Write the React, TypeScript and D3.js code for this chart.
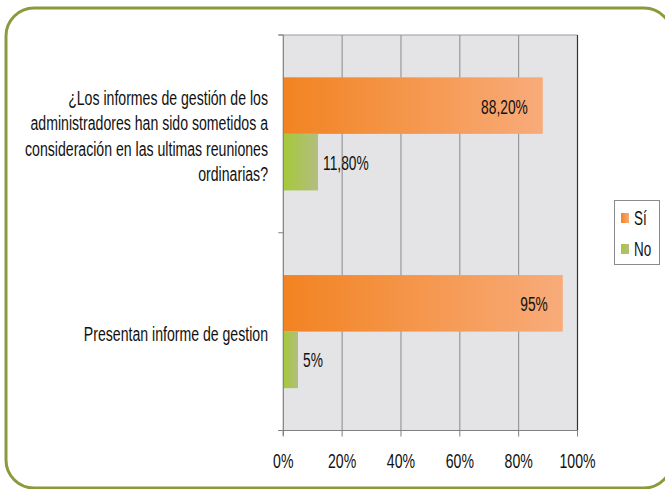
import React from "react";
import * as d3 from "d3";

const categories = [
  "¿Los informes de gestión de los administradores han sido sometidos a consideración en las ultimas reuniones ordinarias?",
  "Presentan informe de gestion",
];
const categoryLines = [
  ["¿Los informes de gestión de los", "administradores han sido sometidos a", "consideración en las ultimas reuniones", "ordinarias?"],
  ["Presentan informe de gestion"],
];
const seriesNames = ["Sí", "No"];
const siValues = [88.2, 95];
const noValues = [11.8, 5];
const siLabels = ["88,20%", "95%"];
const noLabels = ["11,80%", "5%"];
const xTicks = [0, 20, 40, 60, 80, 100];
const xTickLabels = ["0%", "20%", "40%", "60%", "80%", "100%"];

const W = 665;
const H = 489;
const FONT = "'Liberation Sans', Arial, sans-serif";
const SX = 0.672;

function CText({ x, y, anchor, size, children }: any) {
  return (
    <g transform={`translate(${x},${y}) scale(${SX},1)`}>
      <text x={0} y={0} textAnchor={anchor} fontFamily={FONT} fontSize={size} fill="#111">
        {children}
      </text>
    </g>
  );
}

export default function App() {
  const left = 283.3;
  const right = 577.5;
  const top = 35;
  const bottom = 430.5;

  const x = d3.scaleLinear().domain([0, 100]).range([left, right]);
  const y = d3
    .scaleBand<string>()
    .domain(categories)
    .range([top, bottom])
    .paddingInner(0.428)
    .paddingOuter(0.214);
  const inner = d3.scaleBand<string>().domain(seriesNames).range([0, y.bandwidth()]).padding(0);

  const series = [
    { name: "Sí", values: siValues, labels: siLabels, grad: "url(#gOrange)" },
    { name: "No", values: noValues, labels: noLabels, grad: "url(#gGreen)" },
  ];

  const catCenters = categories.map((c) => (y(c) as number) + y.bandwidth() / 2);

  return (
    <svg
      width={W}
      height={H}
      style={{ position: "absolute", left: 0, top: 0, background: "#fff" }}
    >
      <defs>
        <linearGradient id="gOrange" x1="0" y1="0" x2="1" y2="0">
          <stop offset="0" stopColor="#f28321" />
          <stop offset="1" stopColor="#f8ab7a" />
        </linearGradient>
        <linearGradient id="gGreen" x1="0" y1="0" x2="1" y2="0">
          <stop offset="0" stopColor="#a5c93a" />
          <stop offset="1" stopColor="#b3bd80" />
        </linearGradient>
      </defs>

      <rect x={6} y={8} width={666} height={480} rx={28} ry={28} fill="none" stroke="#8b9a3c" strokeWidth={3} />

      {/* plot area */}
      <rect x={left} y={top} width={right - left} height={bottom - top} fill="#e4e4e6" />
      {xTicks.slice(1, -1).map((t) => (
        <line key={t} x1={x(t)} x2={x(t)} y1={top} y2={bottom} stroke="#8a8a8c" strokeWidth={1} />
      ))}
      <line x1={left - 5} x2={right} y1={top} y2={top} stroke="#9a9a9c" strokeWidth={1} />
      <line x1={right} x2={right} y1={top} y2={bottom} stroke="#333" strokeWidth={1.2} />

      {/* bars */}
      {series.map((s) =>
        categories.map((c, i) => {
          const by = (y(c) as number) + (inner(s.name) as number);
          return (
            <rect
              key={s.name + i}
              x={x(0)}
              y={by}
              width={x(s.values[i]) - x(0)}
              height={inner.bandwidth()}
              fill={s.grad}
            />
          );
        })
      )}

      {/* axes */}
      <line x1={left} x2={left} y1={top} y2={bottom + 5} stroke="#7f7f82" strokeWidth={1.2} />
      <line x1={left - 5} x2={right} y1={bottom} y2={bottom} stroke="#7f7f82" strokeWidth={1.2} />
      {xTicks.map((t) => (
        <line key={"t" + t} x1={x(t)} x2={x(t)} y1={bottom} y2={bottom + 6} stroke="#7f7f82" strokeWidth={1} />
      ))}
      {[top, (top + bottom) / 2, bottom].map((yy, i) => (
        <line key={"yt" + i} x1={left - 5} x2={left} y1={yy} y2={yy} stroke="#7f7f82" strokeWidth={1} />
      ))}

      {/* x tick labels */}
      {xTicks.map((t, i) => (
        <CText key={"xl" + t} x={x(t)} y={467.5} anchor="middle" size={21}>
          {xTickLabels[i]}
        </CText>
      ))}

      {/* category labels */}
      {categoryLines.map((lines, ci) =>
        lines.map((ln, li) => (
          <CText
            key={"cl" + ci + li}
            x={268}
            y={catCenters[ci] + (li - (lines.length - 1) / 2) * 25.3 + 9}
            anchor="end"
            size={21}
          >
            {ln}
          </CText>
        ))
      )}

      {/* data labels */}
      {categories.map((c, i) => {
        const by = (y(c) as number) + (inner("Sí") as number) + inner.bandwidth() / 2;
        return (
          <CText key={"ds" + i} x={x(siValues[i]) - 15} y={by + 8} anchor="end" size={20.5}>
            {siLabels[i]}
          </CText>
        );
      })}
      {categories.map((c, i) => {
        const by = (y(c) as number) + (inner("No") as number) + inner.bandwidth() / 2;
        return (
          <CText key={"dn" + i} x={x(noValues[i]) + 5} y={by + 7.5} anchor="start" size={20.5}>
            {noLabels[i]}
          </CText>
        );
      })}

      {/* legend */}
      <rect x={614.5} y={200.5} width={45} height={64} fill="#fff" stroke="#8a8a8c" strokeWidth={1} />
      {series.map((s, i) => (
        <g key={"lg" + s.name}>
          <rect x={621} y={213 + i * 31} width={8} height={10} fill={s.grad} />
          <CText x={634} y={225 + i * 31} anchor="start" size={20}>
            {s.name}
          </CText>
        </g>
      ))}
    </svg>
  );
}
